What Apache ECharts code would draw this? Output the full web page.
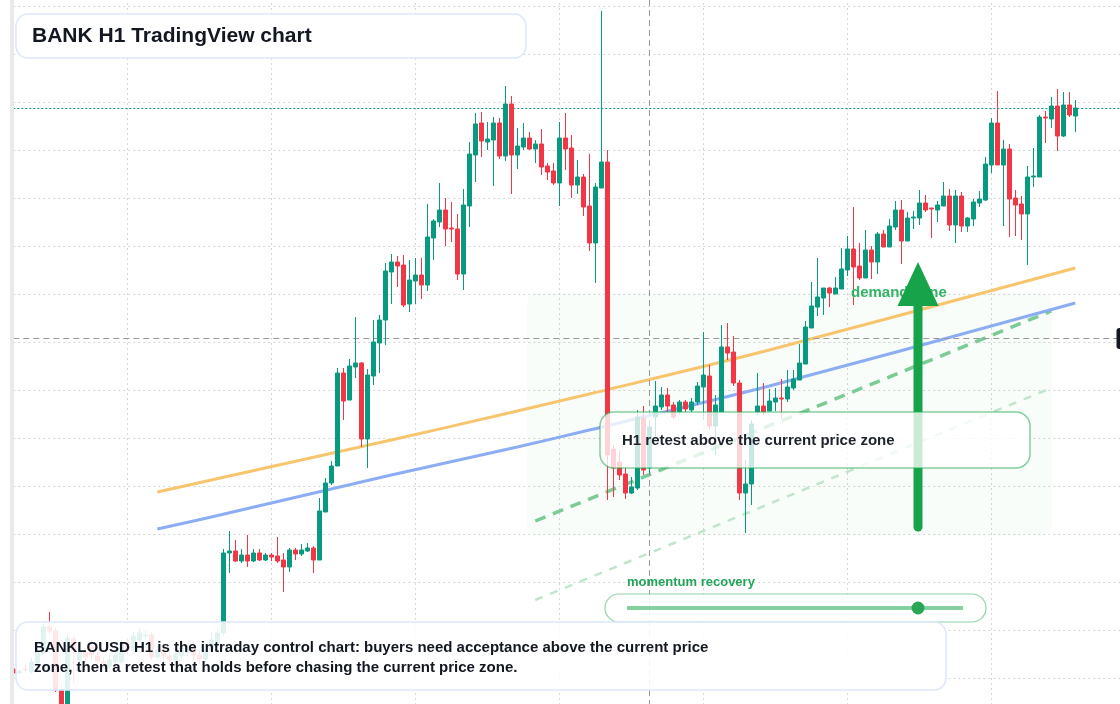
<!DOCTYPE html>
<html>
<head>
<meta charset="utf-8">
<title>BANK H1 TradingView chart</title>
<script src="https://cdn.jsdelivr.net/npm/echarts@6.0.0/dist/echarts.min.js"></script>
<style>
    html, body { margin: 0; padding: 0; background: #ffffff; }
    #chart { width: 1120px; height: 704px; }
</style>
</head>
<body>
<div id="chart"></div>
<script>
// H1 candles (one grid row = 4.8)
var opens = [
    77.7, 77.3, 77.7, 77.4, 78.3, 79.3, 81.9, 81.5, 75.6, 73.4,
    80.7, 78.6, 79.4, 79.9, 79.0, 78.4, 78.0, 78.4, 78.4, 80.3,
    79.6, 80.6, 81.0, 81.1, 78.9, 79.6, 79.0, 78.6, 79.0, 79.3,
    79.8, 79.1, 78.7, 79.6, 80.1, 81.3, 89.3, 89.5, 88.5, 89.1,
    88.5, 89.3, 88.6, 89.1, 89.0, 88.6, 87.9, 89.6, 89.2, 89.5,
    89.8, 88.6, 93.4, 96.3, 98.0, 107.3, 104.6, 107.9, 108.3, 100.7,
    107.0, 110.3, 112.6, 117.4, 118.4, 118.1, 114.2, 116.5, 117.1, 116.1,
    120.8, 122.4, 123.6, 121.8, 121.7, 117.2, 124.0, 129.1, 132.3, 130.4,
    130.6, 132.3, 129.0, 134.2, 129.1, 129.9, 130.8, 129.7, 130.2, 128.0,
    127.5, 126.3, 130.8, 129.8, 126.1, 126.9, 124.0, 120.3, 125.8, 128.4,
    99.7, 98.4, 97.2, 95.3, 95.8, 102.8, 97.8, 102.9, 103.9, 105.1,
    104.1, 103.4, 104.4, 103.6, 104.4, 105.9, 107.0, 102.0, 103.4, 109.9,
    109.4, 106.3, 95.3, 96.2, 103.4, 104.0, 103.5, 104.4, 104.8, 104.7,
    105.8, 106.6, 108.2, 111.8, 113.9, 114.8, 115.8, 115.2, 115.7, 117.6,
    119.7, 118.0, 116.8, 119.6, 118.4, 121.2, 119.9, 121.9, 123.6, 120.5,
    122.8, 122.8, 124.3, 123.8, 123.6, 124.0, 125.0, 122.1, 125.0, 122.0,
    122.7, 124.3, 124.6, 128.1, 132.3, 128.1, 129.7, 124.8, 124.2, 123.2,
    126.9, 126.9, 132.9, 132.7, 134.0, 131.0, 134.1, 133.0
];
var closes = [
    77.3, 77.5, 77.6, 78.4, 79.4, 81.9, 81.5, 75.6, 73.4, 80.8,
    79.6, 79.4, 78.9, 79.1, 78.5, 78.3, 78.6, 79.1, 80.3, 79.6,
    81.0, 81.3, 81.1, 78.9, 79.6, 79.0, 78.6, 79.2, 79.8, 79.8,
    79.1, 78.7, 79.6, 80.6, 81.3, 89.3, 89.5, 88.5, 89.1, 88.5,
    89.3, 88.6, 89.1, 88.9, 88.5, 87.9, 89.6, 89.2, 89.6, 89.8,
    88.6, 93.5, 96.3, 98.0, 107.3, 104.5, 108.0, 108.3, 100.7, 107.1,
    110.4, 112.6, 117.5, 118.4, 118.0, 114.1, 116.6, 117.1, 116.1, 120.9,
    122.5, 123.6, 121.7, 121.7, 117.2, 124.1, 129.2, 132.2, 130.5, 130.7,
    132.3, 129.0, 134.2, 129.1, 130.0, 130.8, 129.7, 130.2, 127.9, 127.4,
    126.3, 130.8, 129.7, 126.1, 126.9, 123.9, 120.3, 125.9, 128.4, 99.1,
    97.8, 97.1, 95.3, 95.9, 102.9, 97.6, 101.9, 104.0, 105.1, 104.0,
    102.9, 104.4, 103.7, 104.4, 106.0, 107.1, 102.0, 104.1, 109.9, 109.3,
    106.3, 95.3, 96.2, 102.2, 104.0, 103.4, 104.5, 104.8, 104.7, 105.9,
    106.7, 108.3, 111.9, 114.0, 114.9, 115.8, 115.3, 115.8, 117.7, 119.7,
    117.9, 116.8, 119.6, 118.4, 121.2, 119.9, 122.0, 123.6, 120.5, 122.8,
    122.9, 124.3, 123.6, 123.7, 124.1, 125.0, 122.1, 125.0, 122.0, 122.8,
    124.4, 124.7, 128.2, 132.3, 128.1, 129.7, 124.7, 124.1, 123.2, 126.9,
    127.0, 132.9, 132.8, 134.0, 131.0, 134.1, 133.1, 133.8
];
var lows = [
    77.1, 77.2, 77.3, 77.2, 78.1, 79.1, 81.2, 75.4, 73.0, 73.0,
    76.3, 78.2, 78.4, 78.6, 78.2, 77.8, 77.7, 78.2, 78.2, 79.2,
    79.4, 80.4, 80.8, 78.6, 78.6, 78.4, 78.0, 78.3, 78.6, 78.9,
    78.6, 78.2, 78.4, 79.4, 79.8, 81.0, 87.3, 88.4, 88.3, 87.9,
    88.4, 88.5, 88.5, 88.5, 88.3, 85.4, 87.4, 88.6, 89.0, 89.4,
    87.3, 88.6, 93.4, 96.1, 98.0, 102.6, 104.6, 106.8, 99.9, 97.8,
    106.1, 107.3, 110.1, 114.2, 115.9, 113.9, 113.4, 114.2, 114.7, 115.5,
    118.6, 121.9, 120.0, 120.4, 116.6, 115.6, 121.9, 126.4, 128.9, 129.6,
    126.0, 128.7, 128.5, 125.2, 127.7, 129.6, 129.6, 128.3, 127.1, 126.6,
    126.1, 124.0, 127.6, 124.8, 125.2, 123.0, 119.5, 116.3, 125.8, 94.6,
    94.9, 96.6, 94.7, 95.2, 95.6, 97.1, 97.3, 100.6, 103.6, 103.4,
    102.6, 103.1, 103.4, 103.4, 104.1, 102.6, 101.6, 99.1, 103.4, 108.6,
    106.0, 94.6, 91.3, 94.1, 103.1, 103.1, 103.5, 103.5, 102.8, 104.4,
    105.6, 106.6, 108.2, 111.8, 113.0, 113.1, 113.9, 115.2, 115.7, 117.0,
    114.1, 116.6, 116.8, 116.7, 117.2, 119.9, 119.9, 121.6, 118.2, 120.5,
    121.7, 122.1, 123.4, 120.8, 122.4, 124.0, 121.5, 120.3, 121.4, 121.4,
    122.0, 123.9, 124.5, 127.3, 128.1, 122.0, 120.9, 121.0, 120.6, 118.1,
    125.9, 126.9, 130.3, 131.8, 129.5, 130.9, 132.9, 131.4
];
var highs = [
    77.9, 77.7, 78.2, 78.8, 79.8, 82.4, 83.4, 81.8, 76.0, 81.2,
    81.0, 80.1, 79.8, 80.6, 79.4, 78.9, 79.1, 79.6, 80.6, 80.8,
    81.4, 81.8, 81.5, 81.4, 80.0, 80.1, 79.6, 79.7, 80.2, 80.1,
    80.4, 79.6, 80.0, 81.4, 81.8, 89.7, 91.5, 90.6, 89.7, 91.1,
    89.7, 89.7, 89.3, 89.3, 90.9, 89.3, 89.8, 89.8, 90.2, 90.3,
    90.0, 94.8, 96.8, 98.5, 107.8, 107.8, 108.7, 112.9, 108.4, 107.7,
    112.6, 113.1, 118.3, 119.2, 119.0, 119.1, 118.6, 118.8, 118.8, 124.2,
    122.7, 126.3, 124.8, 124.4, 123.2, 125.7, 130.4, 133.3, 133.4, 132.4,
    132.9, 132.8, 136.0, 135.0, 131.8, 132.3, 131.4, 130.6, 131.7, 128.3,
    128.3, 132.4, 133.3, 131.1, 128.6, 127.2, 129.2, 126.3, 143.5, 129.6,
    100.1, 99.6, 97.8, 96.9, 103.6, 104.0, 102.6, 106.5, 105.9, 105.8,
    104.4, 104.6, 104.6, 104.8, 106.4, 111.4, 108.1, 105.1, 112.1, 112.3,
    111.0, 106.6, 98.6, 102.6, 107.3, 106.3, 105.7, 105.8, 106.7, 107.6,
    107.6, 110.2, 112.5, 116.4, 118.8, 115.8, 115.9, 116.9, 119.8, 121.0,
    123.9, 120.3, 121.6, 120.0, 121.4, 121.6, 122.7, 124.5, 124.6, 123.4,
    123.5, 125.6, 125.1, 123.8, 124.5, 126.4, 125.7, 125.6, 125.4, 122.9,
    124.7, 125.5, 128.9, 132.8, 135.5, 130.6, 130.2, 125.6, 125.0, 128.0,
    129.8, 133.1, 133.5, 134.9, 135.7, 135.4, 135.4, 134.6
];

// moving averages, [bar index, price]
var emaFast = [[24, 95.4], [33, 96.6], [63, 100.6], [84, 103.5], [96, 105.2], [126, 109.6], [177, 117.8]];
var emaSlow = [[24, 91.7], [33, 92.9], [63, 97.1], [84, 99.9], [96, 101.6], [126, 106.0], [177, 114.3]];
// rising channel
var channelMain = [[87, 92.5], [173, 113.5]];
var channelLow = [[87, 84.6], [173, 105.8]];

var lastPrice = 133.8;
var crossPrice = 110.8;
var crossBar = 106;
var futureBars = 8;

var categories = [];
var t0 = Date.UTC(2024, 4, 6, 0, 0);
for (var i = 0; i < opens.length + futureBars; i++) {
    var d = new Date(t0 + i * 3600 * 1000);
    categories.push((d.getUTCMonth() + 1) + '/' + d.getUTCDate() + ' ' + d.getUTCHours() + ':00');
}

var candles = opens.map(function (o, i) {
    return [o, closes[i], lows[i], highs[i]];
});

var UP = '#089981';
var DOWN = '#f23645';
var GREEN = '#16a34a';
var FONT = '"Liberation Sans", Arial, sans-serif';

var dom = document.getElementById('chart');
var myChart = echarts.init(dom);

var option = {
    backgroundColor: '#ffffff',
    animation: false,
    grid: { left: 13.3, top: -42, width: 1110, height: 768, containLabel: false, outerBoundsMode: 'none' },
    xAxis: {
        type: 'category',
        data: categories,
        boundaryGap: false,
        axisLine: { show: false },
        axisTick: { show: false },
        axisLabel: { show: false },
        splitLine: {
            show: true,
            interval: function (index) { return (index - 19) % 24 === 0; },
            lineStyle: { color: '#d6d6d6', width: 1, type: [2, 3] }
        }
    },
    yAxis: {
        type: 'value',
        position: 'right',
        min: 72,
        max: 148.8,
        interval: 4.8,
        axisLine: { show: false },
        axisTick: { show: false },
        axisLabel: { show: false },
        splitLine: { show: true, lineStyle: { color: '#d6d6d6', width: 1, type: [2, 3] } }
    },
    series: [
        {
            name: 'BANK H1',
            type: 'candlestick',
            data: candles,
            barWidth: 4,
            z: 5,
            itemStyle: {
                color: UP,
                color0: DOWN,
                borderColor: UP,
                borderColor0: DOWN,
                borderWidth: 1
            },
            markLine: {
                silent: true,
                symbol: ['none', 'none'],
                label: { show: false },
                data: [
                    { yAxis: lastPrice, lineStyle: { color: UP, width: 1, type: [2, 2] } },
                    { yAxis: crossPrice, lineStyle: { color: '#9a9a9a', width: 1, type: [6, 4] } },
                    { xAxis: crossBar, lineStyle: { color: '#9a9a9a', width: 1, type: [6, 4] } }
                ]
            }
        },
        {
            name: 'EMA fast',
            type: 'line',
            data: emaFast,
            smooth: 0.3,
            showSymbol: false,
            z: 4,
            lineStyle: { color: '#f7c56e', width: 3 }
        },
        {
            name: 'EMA slow',
            type: 'line',
            data: emaSlow,
            smooth: 0.3,
            showSymbol: false,
            z: 4,
            lineStyle: { color: '#8dadf2', width: 3 }
        },
        {
            name: 'channel',
            type: 'line',
            data: channelMain,
            showSymbol: false,
            z: 3,
            lineStyle: { color: '#7ccb95', width: 3.5, type: [11, 8] }
        },
        {
            name: 'channel low',
            type: 'line',
            data: channelLow,
            showSymbol: false,
            z: 3,
            lineStyle: { color: '#bfe6cc', width: 2.5, type: [8, 8] }
        }
    ],
    graphic: [
        // left edge strip
        { type: 'rect', z: 50, shape: { x: 10, y: 0, width: 4, height: 704 }, style: { fill: '#e9e9e9' } },
        // demand zone
        { type: 'rect', z: 1, shape: { x: 527, y: 293, width: 525, height: 242, r: 10 }, style: { fill: 'rgba(34,197,94,0.03)' } },
        { type: 'text', z: 20, x: 851, y: 293, style: { text: 'demand zone', font: 'bold 15px ' + FONT, fill: '#34b164', verticalAlign: 'middle' } },
        // arrow
        { type: 'line', z: 30, shape: { x1: 918, y1: 300, x2: 918, y2: 527 }, style: { stroke: GREEN, lineWidth: 9, lineCap: 'round' } },
        { type: 'polygon', z: 30, shape: { points: [[918, 262], [897.5, 306], [938.5, 306]] }, style: { fill: GREEN } },
        // retest note
        { type: 'rect', z: 40, shape: { x: 600, y: 412, width: 430, height: 56, r: 14 }, style: { fill: 'rgba(255,255,255,0.78)', stroke: 'rgba(34,170,80,0.55)', lineWidth: 1.5 } },
        { type: 'text', z: 41, x: 622, y: 441, style: { text: 'H1 retest above the current price zone', font: 'bold 15px ' + FONT, fill: '#1e222d', verticalAlign: 'middle' } },
        // momentum slider
        { type: 'text', z: 41, x: 627, y: 582, style: { text: 'momentum recovery', font: 'bold 13px ' + FONT, fill: '#22a55a', verticalAlign: 'middle' } },
        { type: 'rect', z: 40, shape: { x: 605, y: 594, width: 381, height: 28, r: 14 }, style: { fill: 'rgba(255,255,255,0.9)', stroke: 'rgba(34,170,80,0.5)', lineWidth: 1.2 } },
        { type: 'line', z: 41, shape: { x1: 627, y1: 608, x2: 963, y2: 608 }, style: { stroke: 'rgba(34,170,80,0.55)', lineWidth: 4 } },
        { type: 'circle', z: 42, shape: { cx: 918, cy: 608, r: 6.5 }, style: { fill: '#2aa657' } },
        // bottom note
        { type: 'rect', z: 40, shape: { x: 16, y: 622, width: 930, height: 68, r: 12 }, style: { fill: 'rgba(255,255,255,0.88)', stroke: '#dce7fa', lineWidth: 1.5 } },
        { type: 'text', z: 41, x: 34, y: 648, style: { text: 'BANKLOUSD H1 is the intraday control chart: buyers need acceptance above the current price', font: 'bold 15px ' + FONT, fill: '#131722', verticalAlign: 'middle' } },
        { type: 'text', z: 41, x: 34, y: 668, style: { text: 'zone, then a retest that holds before chasing the current price zone.', font: 'bold 15px ' + FONT, fill: '#131722', verticalAlign: 'middle' } },
        // title
        { type: 'rect', z: 40, shape: { x: 16, y: 14, width: 510, height: 44, r: 12 }, style: { fill: '#ffffff', stroke: '#dce7fa', lineWidth: 1.5 } },
        { type: 'text', z: 41, x: 32, y: 36, style: { text: 'BANK H1 TradingView chart', font: 'bold 21px ' + FONT, fill: '#131722', verticalAlign: 'middle' } },
        // crosshair price tag, cut by the edge
        { type: 'rect', z: 45, shape: { x: 1116.5, y: 328, width: 12, height: 21, r: 3 }, style: { fill: '#131722' } }
    ]
};

myChart.setOption(option, true);
</script>
</body>
</html>
